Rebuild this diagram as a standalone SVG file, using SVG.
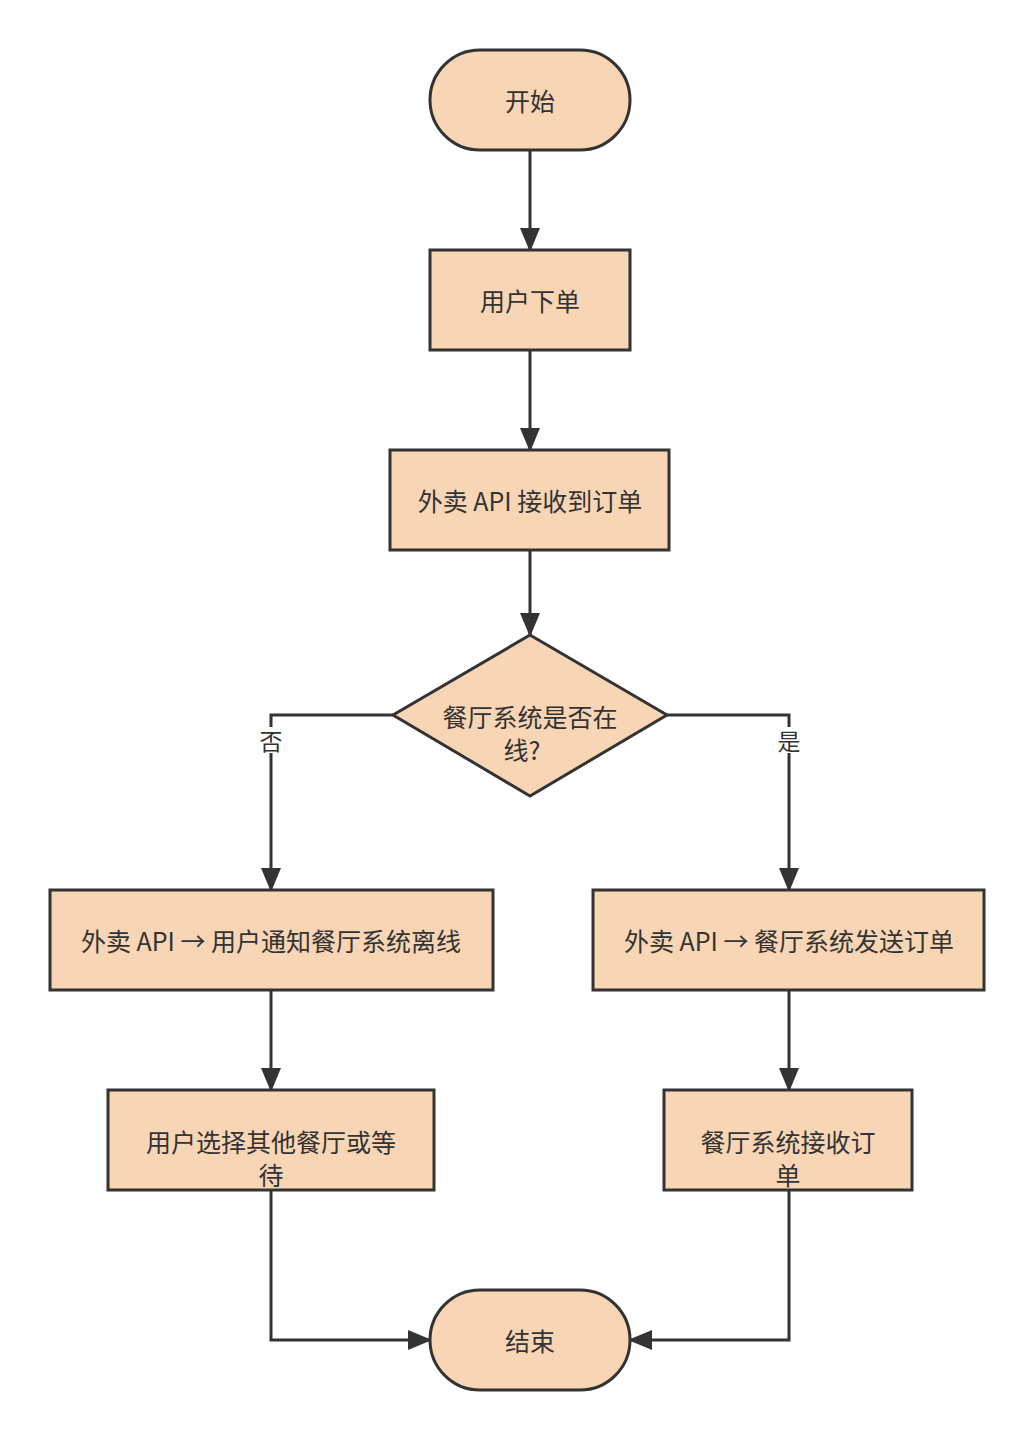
<svg xmlns="http://www.w3.org/2000/svg" width="1033" height="1440" viewBox="0 0 1033 1440">
<style>
.n{fill:#f7d5b5;stroke:#333;stroke-width:3}
.t{font-family:"Noto Sans CJK SC","Noto Sans",sans-serif;font-size:25px;fill:#333;text-anchor:middle;dominant-baseline:central}
.c{fill:none;stroke:#333;stroke-width:3}
.l{font-family:"Noto Sans CJK SC",sans-serif;font-size:23px;fill:#333;text-anchor:middle;dominant-baseline:central}
</style>
<defs><marker id="b" markerWidth="24" markerHeight="24" refX="22" refY="12" orient="auto" markerUnits="userSpaceOnUse" viewBox="0 0 24 24"><path d="M0,2 L24,12 L0,22 Z" fill="#333"/></marker></defs>
<rect width="1033" height="1440" fill="#fff"/>
<g id="connectors">
<path class="c" d="M530,150 V250" marker-end="url(#b)"/>
<path class="c" d="M530,350 V450" marker-end="url(#b)"/>
<path class="c" d="M530,550 V635" marker-end="url(#b)"/>
<path class="c" d="M393,715 H271 V890" marker-end="url(#b)"/>
<path class="c" d="M667,715 H789 V890" marker-end="url(#b)"/>
<path class="c" d="M271,990 V1090" marker-end="url(#b)"/>
<path class="c" d="M789,990 V1090" marker-end="url(#b)"/>
<path class="c" d="M271,1190 V1340 H430" marker-end="url(#b)"/>
<path class="c" d="M789,1190 V1340 H630" marker-end="url(#b)"/>
<rect x="258" y="727" width="26" height="26" fill="#fff"/><text class="l" x="271" y="740">否</text>
<rect x="776" y="727" width="26" height="26" fill="#fff"/><text class="l" x="789" y="740">是</text>
</g>
<g id="start"><rect class="n" x="430" y="50" width="200" height="100" rx="50"/><text class="t" x="530" y="100">开始</text></g>
<g id="order"><rect class="n" x="430" y="250" width="200" height="100"/><text class="t" x="530" y="300">用户下单</text></g>
<g id="api"><rect class="n" x="390" y="450" width="279" height="100"/><text class="t" x="530" y="500">外卖 API 接收到订单</text></g>
<g id="decision"><polygon class="n" points="530,635 667,715 530,796 393,715"/><text class="t" x="530" y="716">餐厅系统是否在</text><text class="t" x="522" y="749">线?</text></g>
<g id="notify"><rect class="n" x="50" y="890" width="443" height="100"/><text class="t" x="271" y="940">外卖 API → 用户通知餐厅系统离线</text></g>
<g id="send"><rect class="n" x="593" y="890" width="391" height="100"/><text class="t" x="789" y="940">外卖 API → 餐厅系统发送订单</text></g>
<g id="choose"><rect class="n" x="108" y="1090" width="326" height="100"/><text class="t" x="271" y="1141">用户选择其他餐厅或等</text><text class="t" x="271" y="1174">待</text></g>
<g id="receive"><rect class="n" x="664" y="1090" width="248" height="100"/><text class="t" x="788" y="1141">餐厅系统接收订</text><text class="t" x="788" y="1174">单</text></g>
<g id="end"><rect class="n" x="430" y="1290" width="200" height="100" rx="50"/><text class="t" x="530" y="1340">结束</text></g>
</svg>
